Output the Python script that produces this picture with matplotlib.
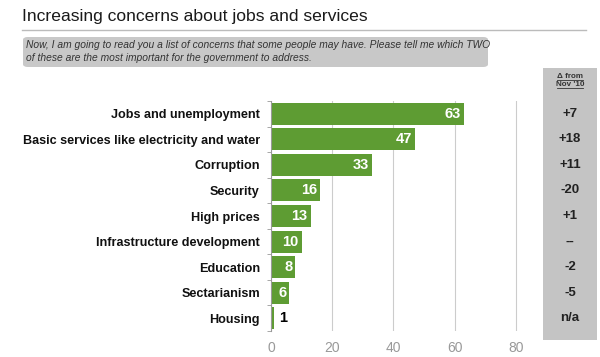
import matplotlib.pyplot as plt
from matplotlib.patches import FancyBboxPatch, Rectangle
from matplotlib.transforms import blended_transform_factory

categories = ['Jobs and unemployment', 'Basic services like electricity and water', 'Corruption',
              'Security', 'High prices', 'Infrastructure development', 'Education',
              'Sectarianism', 'Housing']
values = [63, 47, 33, 16, 13, 10, 8, 6, 1]
changes = ['+7', '+18', '+11', '-20', '+1', '--', '-2', '-5', 'n/a']
x_ticks = [0, 20, 40, 60, 80]

green = '#5e9c33'
font = 'Liberation Sans'

fig = plt.figure(figsize=(6, 3.57), dpi=100)
fig.patch.set_facecolor('white')

# title and rule under it
fig.text(22 / 600, 1 - 17 / 357, 'Increasing concerns about jobs and services',
         fontsize=12.6, color='#1a1a1a', va='center', ha='left', family=font)
fig.add_artist(plt.Line2D([22 / 600, 586 / 600], [1 - 30 / 357] * 2, color='#bbbbbb', lw=1))

# question box
fig.add_artist(FancyBboxPatch((23 / 600, 1 - 67 / 357), 465 / 600, 30 / 357,
                              boxstyle='round,pad=0,rounding_size=0.008',
                              facecolor='#c8c8c8', edgecolor='none', transform=fig.transFigure))
fig.text(26 / 600, 1 - 45 / 357,
         'Now, I am going to read you a list of concerns that some people may have. Please tell me which TWO',
         fontsize=7.35, style='italic', color='#333333', va='center', family=font)
fig.text(26 / 600, 1 - 58 / 357, 'of these are the most important for the government to address.',
         fontsize=7.35, style='italic', color='#333333', va='center', family=font)

# change column box
fig.add_artist(Rectangle((543 / 600, 1 - 340 / 357), 54 / 600, 272 / 357, zorder=-1,
                         facecolor='#c4c4c4', edgecolor='none', transform=fig.transFigure))
fig.text(570 / 600, 1 - 76 / 357, '\u0394 from', fontsize=5.8, weight='bold', ha='center',
         va='center', color='#333333', family=font)
fig.text(570 / 600, 1 - 84 / 357, "Nov '10", fontsize=5.8, weight='bold', ha='center',
         va='center', color='#333333', family=font)
fig.add_artist(plt.Line2D([557 / 600, 583 / 600], [1 - 80 / 357] * 2, color='#333333', lw=0.6))
fig.add_artist(plt.Line2D([557 / 600, 583 / 600], [1 - 88 / 357] * 2, color='#333333', lw=0.6))

ax = fig.add_axes([271 / 600, 1 - 331 / 357, 260 / 600, 230 / 357])
ax.patch.set_alpha(0)
y = list(range(len(categories)))
ax.barh(y, values, height=0.86, color=green)
ax.set_ylim(len(categories) - 0.5, -0.5)
ax.set_xlim(0, 85)

# value labels
for i, v in enumerate(values):
    if v > 3:
        ax.text(v - 1, i, str(v), color='white', weight='bold', fontsize=10.5,
                ha='right', va='center', family=font)
    else:
        ax.text(v + 1.5, i, str(v), color='black', weight='bold', fontsize=10.5,
                ha='left', va='center', family=font)

# change values in the gray column
trans = blended_transform_factory(fig.transFigure, ax.transData)
for i, c in enumerate(changes):
    ax.text(570 / 600, i, c, transform=trans, ha='center', va='center', fontsize=9.5,
            weight='bold', color='#222222', family=font, clip_on=False, zorder=5)

ax.set_yticks(y)
ax.set_yticklabels(categories, fontsize=9.1, weight='bold', color='#111111', family=font)
ax.tick_params(axis='y', length=0, pad=8)
ax.set_yticks([i - 0.5 for i in range(len(categories) + 1)], minor=True)
ax.tick_params(axis='y', which='minor', length=3, color='#999999', direction='out')

ax.set_xticks(x_ticks)
ax.set_xticklabels([str(t) for t in x_ticks], fontsize=10, color='#999999', family=font)
ax.tick_params(axis='x', length=0, pad=7)
ax.grid(axis='x', color='#cccccc', lw=0.8)
ax.set_axisbelow(True)
for s in ['top', 'right', 'bottom']:
    ax.spines[s].set_visible(False)
ax.spines['left'].set_color('#999999')

fig.savefig('out.png', dpi=100)
